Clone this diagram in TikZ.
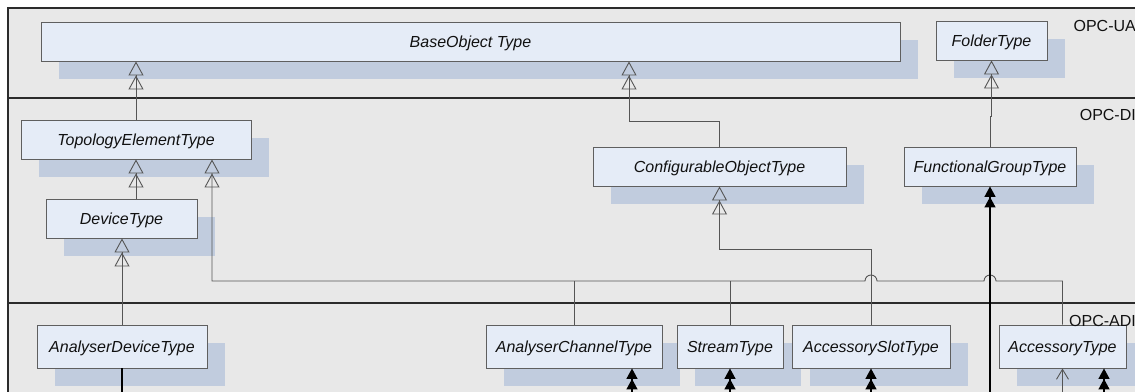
\documentclass[tikz,border=0pt]{standalone}
\usepackage{fontspec}
\setmainfont{Liberation Sans}
\usetikzlibrary{arrows.meta,shadows,calc}

\definecolor{layerbg}{HTML}{E8E8E8}
\definecolor{boxfill}{HTML}{E5ECF7}
\definecolor{boxline}{HTML}{5F5F5F}
\definecolor{boxshade}{HTML}{C1CCDE}
\definecolor{connc}{HTML}{555555}
\definecolor{framec}{HTML}{2B2B2B}
\definecolor{textc}{HTML}{111111}

\begin{document}
\begin{tikzpicture}[x=1pt,y=-1pt,
  typebox/.style={draw=boxline, fill=boxfill, line width=0.9pt, inner sep=0pt,
    minimum height=39pt, text=textc,
    font=\fontsize{16}{19}\selectfont\itshape, text height=12.8pt, text depth=1.3pt,
    general shadow={fill=boxshade, shadow xshift=18pt, shadow yshift=-18pt}},
  adibox/.style={typebox, minimum height=43pt},
  layerlabel/.style={anchor=base east, inner sep=0pt, text=textc,
    font=\fontsize{16}{19}\selectfont},
  layerline/.style={draw=framec, line width=1.4pt},
  conn/.style={draw=connc, line width=0.9pt},
  generalise/.style={-{Triangle[open,length=14pt,width=15pt]Triangle[open,length=14pt,width=15pt]}},
  assoc/.style={draw=black, line width=1.4pt,
    -{Triangle[length=10.5pt,width=11pt]Triangle[length=10.5pt,width=11pt]}},
  plainlink/.style={draw=connc, line width=0.9pt, -{Straight Barb[length=10pt,width=12pt]}},
]
\useasboundingbox (0,0) rectangle (1135,391);
\clip (0,0) rectangle (1135,391);

% layer frame
\fill[layerbg] (8,8) rectangle (1142,398);
\draw[layerline] (1142,8) -- (8,8) -- (8,398);
\draw[layerline] (8,98) -- (1142,98);
\draw[layerline] (8,303) -- (1142,303);

% OPC-UA types
\node[typebox, minimum width=859pt] (base) at (470.5,41.5) {BaseObject Type};
\node[typebox, minimum width=111pt] (folder) at (991.5,40.5) {FolderType};

% OPC-DI types
\node[typebox, minimum width=230pt] (topo) at (136,139.5) {TopologyElementType};
\node[typebox, minimum width=151pt] (device) at (121.5,218.5) {DeviceType};
\node[typebox, minimum width=253pt] (config) at (719.5,166.5) {ConfigurableObjectType};
\node[typebox, minimum width=172pt] (fgroup) at (990,166.5) {FunctionalGroupType};

% OPC-ADI types
\node[adibox, minimum width=170pt] (adevice) at (122,346.5) {AnalyserDeviceType};
\node[adibox, minimum width=176pt] (achannel) at (574,346.5) {AnalyserChannelType};
\node[adibox, minimum width=106pt] (stream) at (730,346.5) {StreamType};
\node[adibox, minimum width=158pt] (aslot) at (871,346.5) {AccessorySlotType};
\node[adibox, minimum width=127pt] (accessory) at (1062.5,346.5) {AccessoryType};

% layer names
\node[layerlabel] (uaLabel) at (1136,31.5) {OPC-UA};
\node[layerlabel] (diLabel) at (1136,120) {OPC-DI};
\node[layerlabel] (adiLabel) at (1136,326) {OPC-ADI};

% routing points
\coordinate (tj) at (212,281);
\coordinate (cj) at (871,249);
\coordinate (bj) at (629,121);
\coordinate (fj) at (991.5,116);
\coordinate (bottom) at (0,398);
\coordinate (chanIn) at (632,398);
\coordinate (accIn) at (1104,398);

% subtype relations
\draw[conn, generalise] (topo.north) -- (topo.north |- base.south);
\draw[conn, generalise] (config.north) |- (bj) -- (bj |- base.south);
\draw[conn, generalise] (fgroup.north) |- (fj) -- (folder.south);
\draw[conn, generalise] (topo.south |- device.north) -- (topo.south);
\draw[conn, generalise] (adevice.north) -- (adevice.north |- device.south);
\draw[conn, generalise] (aslot.north) -- (cj) -| (config.south);
\draw[conn, generalise] (accessory.north) -- (accessory.north |- tj)
  -- ($(fgroup.south |- tj)+(6,0)$) arc[start angle=0, end angle=180, radius=6pt]
  -- ($(aslot.north |- tj)+(6,0)$) arc[start angle=0, end angle=180, radius=6pt]
  -- (tj) -- (tj |- topo.south);
\draw[conn] (achannel.north) -- (achannel.north |- tj);
\draw[conn] (stream.north) -- (stream.north |- tj);

% references entering from below
\draw[assoc] (fgroup.south |- bottom) -- (fgroup.south);
\draw[assoc] (chanIn) -- (chanIn |- achannel.south);
\draw[assoc] (stream.south |- bottom) -- (stream.south);
\draw[assoc] (aslot.south |- bottom) -- (aslot.south);
\draw[assoc] (accIn) -- (accIn |- accessory.south);
\draw[plainlink] (accessory.south |- bottom) -- (accessory.south);
\draw[black, line width=1.4pt] (adevice.south) -- (adevice.south |- bottom);
\end{tikzpicture}
\end{document}
